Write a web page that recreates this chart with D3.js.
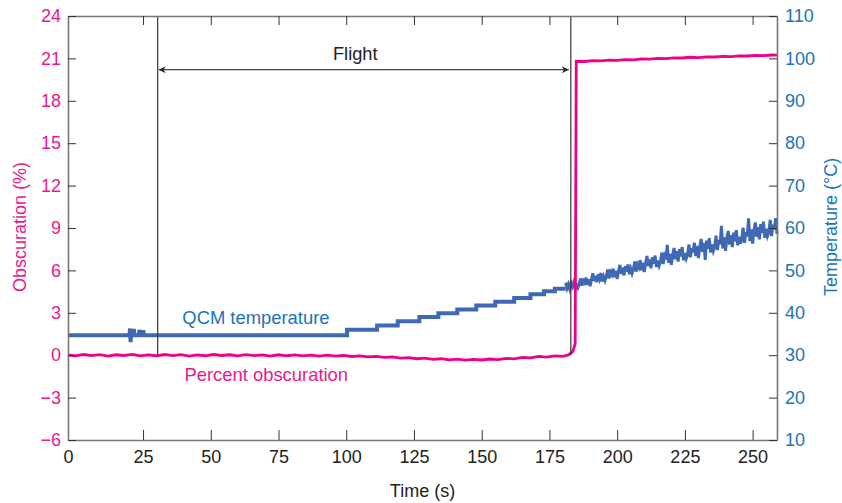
<!DOCTYPE html>
<html>
<head>
<script src="https://cdn.jsdelivr.net/npm/d3@7"></script>
<style>
  body { margin: 0; background: #fff; }
  svg text { font-family: "Liberation Sans", Arial, sans-serif; }
  .axis path.domain { stroke: #777; stroke-width: 1.6px; }
  .axis line { stroke: #333; }
</style>
</head>
<body>
<div id="container"></div>
<script>
// time axis ticks (the first label sits at the left frame edge)
const timeTicks = [-2.7, 25, 50, 75, 100, 125, 150, 175, 200, 225, 250];
const obsTicks = [24, 21, 18, 15, 12, 9, 6, 3, 0, -3, -6];
const tempTicks = [110, 100, 90, 80, 70, 60, 50, 40, 30, 20, 10];

// flight start / end markers (s) and arrow level (%)
const flightTimes = [30.4, 182.9];
const arrowLevel = 20.2;

// percent obscuration [time s, %]
const obscuration = [
  [-2.7,0.03],[0,-0.04],[3,0.05],[6,-0.03],[9,0.04],[12,-0.06],[15,0.03],[18,-0.02],[21,0.06],[24,-0.05],
  [27,0.02],[30,-0.04],[33,0.05],[36,-0.03],[39,0.04],[42,-0.06],[45,0.02],[48,-0.04],[51,0.05],[54,-0.02],
  [57,0.03],[60,-0.05],[63,0.04],[66,-0.03],[69,0.02],[72,-0.06],[75,0.03],[78,-0.04],[81,0.02],[84,-0.05],
  [87,0.01],[90,-0.06],[93,0.0],[96,-0.07],[99,-0.02],[102,-0.09],[105,-0.05],[108,-0.12],[111,-0.08],[114,-0.16],
  [117,-0.12],[120,-0.2],[123,-0.17],[126,-0.25],[129,-0.21],[132,-0.29],[135,-0.25],[138,-0.33],[141,-0.28],[144,-0.35],
  [147,-0.29],[150,-0.34],[153,-0.27],[156,-0.31],[159,-0.22],[162,-0.26],[165,-0.15],[168,-0.19],[171,-0.09],[174,-0.13],
  [177,-0.05],[180,-0.08],[182,0.02],[183.6,0.25],[184.5,0.8],[184.9,20.8],
  [188,20.78],[191,20.84],[194,20.83],[197,20.88],[200,20.86],[203,20.92],[206,20.9],[209,20.96],[212,20.95],
  [215,21.0],[218,20.98],[221,21.04],[224,21.03],[227,21.08],[230,21.06],[233,21.11],[236,21.1],[239,21.15],
  [242,21.13],[245,21.18],[248,21.17],[251,21.21],[254,21.2],[257,21.24],[259,21.23]
];

// QCM temperature, quantised part up to 181 s [time s, deg C]
const qcmTempSteady = [
  [-2.7,34.7],[20.0,34.7],[20.2,36.3],[20.4,33.1],[20.6,34.7],[21.5,34.7],[21.6,36.2],[21.8,34.7],
  [23.5,34.7],[23.6,36.0],[23.8,34.7],[25.0,34.7],[25.1,35.9],[25.3,34.7],
  [100.3,34.7],[100.3,36.0],[111.4,36.0],[111.4,37.0],[119,37.0],[119,38.0],[127,38.0],[127,39.0],
  [134,39.0],[134,39.9],[141,39.9],[141,40.8],[148,40.8],[148,41.7],[155,41.7],[155,42.6],
  [162,42.6],[162,43.5],[168,43.5],[168,44.4],[173,44.4],[173,45.1],[177,45.1],[177,45.7],
  [181,45.7]
];

// QCM temperature readings every 0.5 s from 181 s (noisy part)
const qcmTempNoisyStart = 181;
const qcmTempNoisy = [
  47.1,45.8,46.7,45.6,47.0,46.2,47.2,45.8,46.6,45.9,
  46.8,48.1,46.4,47.6,47.1,48.3,46.6,47.9,46.3,47.8,
  49.3,47.5,48.7,47.2,49.1,48.0,49.4,47.4,48.5,47.6,
  48.6,50.2,48.1,49.6,49.0,50.4,48.4,49.9,48.0,49.8,
  51.3,49.2,50.6,48.8,51.0,49.7,51.4,49.1,50.4,49.3,
  50.3,52.1,49.7,51.4,50.7,52.4,50.0,51.8,49.6,51.7,
  53.4,51.0,52.6,50.5,53.1,51.6,53.5,50.8,52.3,51.1,
  52.1,54.2,51.5,53.4,52.6,56.0,51.8,53.9,51.3,53.7,
  55.3,52.6,54.5,52.1,55.0,53.3,55.5,52.4,54.1,52.8,
  53.8,56.1,53.1,55.2,54.3,56.5,53.4,55.8,52.9,55.6,
  57.4,54.4,56.5,52.5,57.0,55.1,57.6,54.2,56.1,54.6,
  55.6,58.2,54.8,57.2,56.2,60.5,55.2,57.8,54.6,57.6,
  59.3,56.1,58.3,55.5,58.9,56.9,59.5,55.9,57.9,56.3,
  57.4,60.1,56.5,59.0,58.0,62.3,56.9,59.7,56.3,59.5,
  61.3,57.9,60.2,57.3,60.9,58.8,61.5,57.7,59.8,58.1,
  59.0,61.9,58.1,60.8,59.7,62.3,58.6
];

const pink = "#ec008c", pinkText = "#e8198b";
const blue = "#3f69b3", blueText = "#1a74b9";

const margin = {top: 16, right: 65, bottom: 63, left: 68};
const width = 842 - margin.left - margin.right;
const height = 503 - margin.top - margin.bottom;

var svg = d3.select("#container").append("svg")
    .attr("width", 842)
    .attr("height", 503)
  .append("g")
    .attr("transform", "translate(" + margin.left + "," + margin.top + ")");

var x = d3.scaleLinear().domain([-2.7, 259]).range([0, width]);
var yL = d3.scaleLinear().domain([-6, 24]).range([height, 0]);
var yR = d3.scaleLinear().domain([10, 110]).range([height, 0]);

// data lines
var tempLine = d3.line().x(d => x(d[0])).y(d => yR(d[1]));
var noisyLine = d3.line()
    .x((d, i) => x(qcmTempNoisyStart + i * 0.5))
    .y(d => yR(d));
var obsLine = d3.line().x(d => x(d[0])).y(d => yL(d[1]));

svg.append("path")
    .datum(qcmTempSteady)
    .attr("fill", "none")
    .attr("stroke", blue)
    .attr("stroke-width", 4)
    .attr("d", tempLine);

svg.append("path")
    .datum(qcmTempNoisy)
    .attr("fill", "none")
    .attr("stroke", blue)
    .attr("stroke-width", 3)
    .attr("d", noisyLine);

svg.append("path")
    .datum(obscuration)
    .attr("fill", "none")
    .attr("stroke", pink)
    .attr("stroke-width", 2.8)
    .attr("d", obsLine);

// flight markers
svg.selectAll(".flight")
    .data(flightTimes)
  .enter().append("line")
    .attr("x1", d => x(d)).attr("x2", d => x(d))
    .attr("y1", yL(24)).attr("y2", yL(0))
    .attr("stroke", "#333")
    .attr("stroke-width", 1.2);

var defs = svg.append("defs");
defs.append("marker")
    .attr("id", "arrow")
    .attr("viewBox", "0 0 10 10")
    .attr("refX", 10).attr("refY", 5)
    .attr("markerWidth", 10).attr("markerHeight", 7)
    .attr("markerUnits", "userSpaceOnUse")
    .attr("orient", "auto-start-reverse")
  .append("path")
    .attr("d", "M0,0 L10,5 L0,10 L3,5 Z")
    .attr("fill", "#222");

svg.append("line")
    .attr("x1", x(flightTimes[0]) + 1).attr("x2", x(flightTimes[1]) - 2)
    .attr("y1", yL(arrowLevel)).attr("y2", yL(arrowLevel))
    .attr("stroke", "#444")
    .attr("stroke-width", 1.2)
    .attr("marker-start", "url(#arrow)")
    .attr("marker-end", "url(#arrow)");

svg.append("text")
    .attr("x", (x(flightTimes[0]) + x(flightTimes[1])) / 2 - 9)
    .attr("y", yL(arrowLevel) - 10)
    .attr("text-anchor", "middle")
    .attr("fill", "#222")
    .style("font-size", "18.2px")
    .text("Flight");

svg.append("text")
    .attr("x", x(39.5))
    .attr("y", yR(37.3))
    .attr("fill", blueText)
    .style("font-size", "18.4px")
    .text("QCM temperature");

svg.append("text")
    .attr("x", x(40.3))
    .attr("y", yL(-1.85))
    .attr("fill", pinkText)
    .style("font-size", "18.4px")
    .text("Percent obscuration");

// axes
var xAxis = svg.append("g")
    .attr("class", "axis")
    .attr("transform", "translate(0," + height + ")")
    .call(d3.axisBottom(x).tickValues(timeTicks)
      .tickFormat(d => d < 0 ? "0" : d)
      .tickSizeInner(-10).tickSizeOuter(0).tickPadding(10));
xAxis.selectAll("text").attr("fill", "#222").style("font-size", "18px");

svg.append("g")
    .attr("class", "axis")
    .call(d3.axisTop(x).tickValues(timeTicks.slice(1))
      .tickFormat("").tickSizeInner(-9).tickSizeOuter(0));

var yAxisL = svg.append("g")
    .attr("class", "axis")
    .call(d3.axisLeft(yL).tickValues(obsTicks)
      .tickSizeInner(-8).tickSizeOuter(0).tickPadding(7));
yAxisL.selectAll("text").attr("fill", pinkText).style("font-size", "18px");

var yAxisR = svg.append("g")
    .attr("class", "axis")
    .attr("transform", "translate(" + width + ",0)")
    .call(d3.axisRight(yR).tickValues(tempTicks)
      .tickSizeInner(-8).tickSizeOuter(0).tickPadding(8));
yAxisR.selectAll("text").attr("fill", blueText).style("font-size", "18px");

// axis titles
svg.append("text")
    .attr("x", width / 2)
    .attr("y", height + 57)
    .attr("text-anchor", "middle")
    .attr("fill", "#222")
    .style("font-size", "18px")
    .text("Time (s)");

svg.append("text")
    .attr("transform", "translate(" + (-42) + "," + (height / 2 - 1) + ") rotate(-90)")
    .attr("text-anchor", "middle")
    .attr("fill", pinkText)
    .style("font-size", "18px")
    .text("Obscuration (%)");

svg.append("text")
    .attr("transform", "translate(" + (width + 60) + "," + (height / 2 - 1) + ") rotate(-90)")
    .attr("text-anchor", "middle")
    .attr("fill", blueText)
    .style("font-size", "18px")
    .text("Temperature (°C)");
</script>
</body>
</html>
